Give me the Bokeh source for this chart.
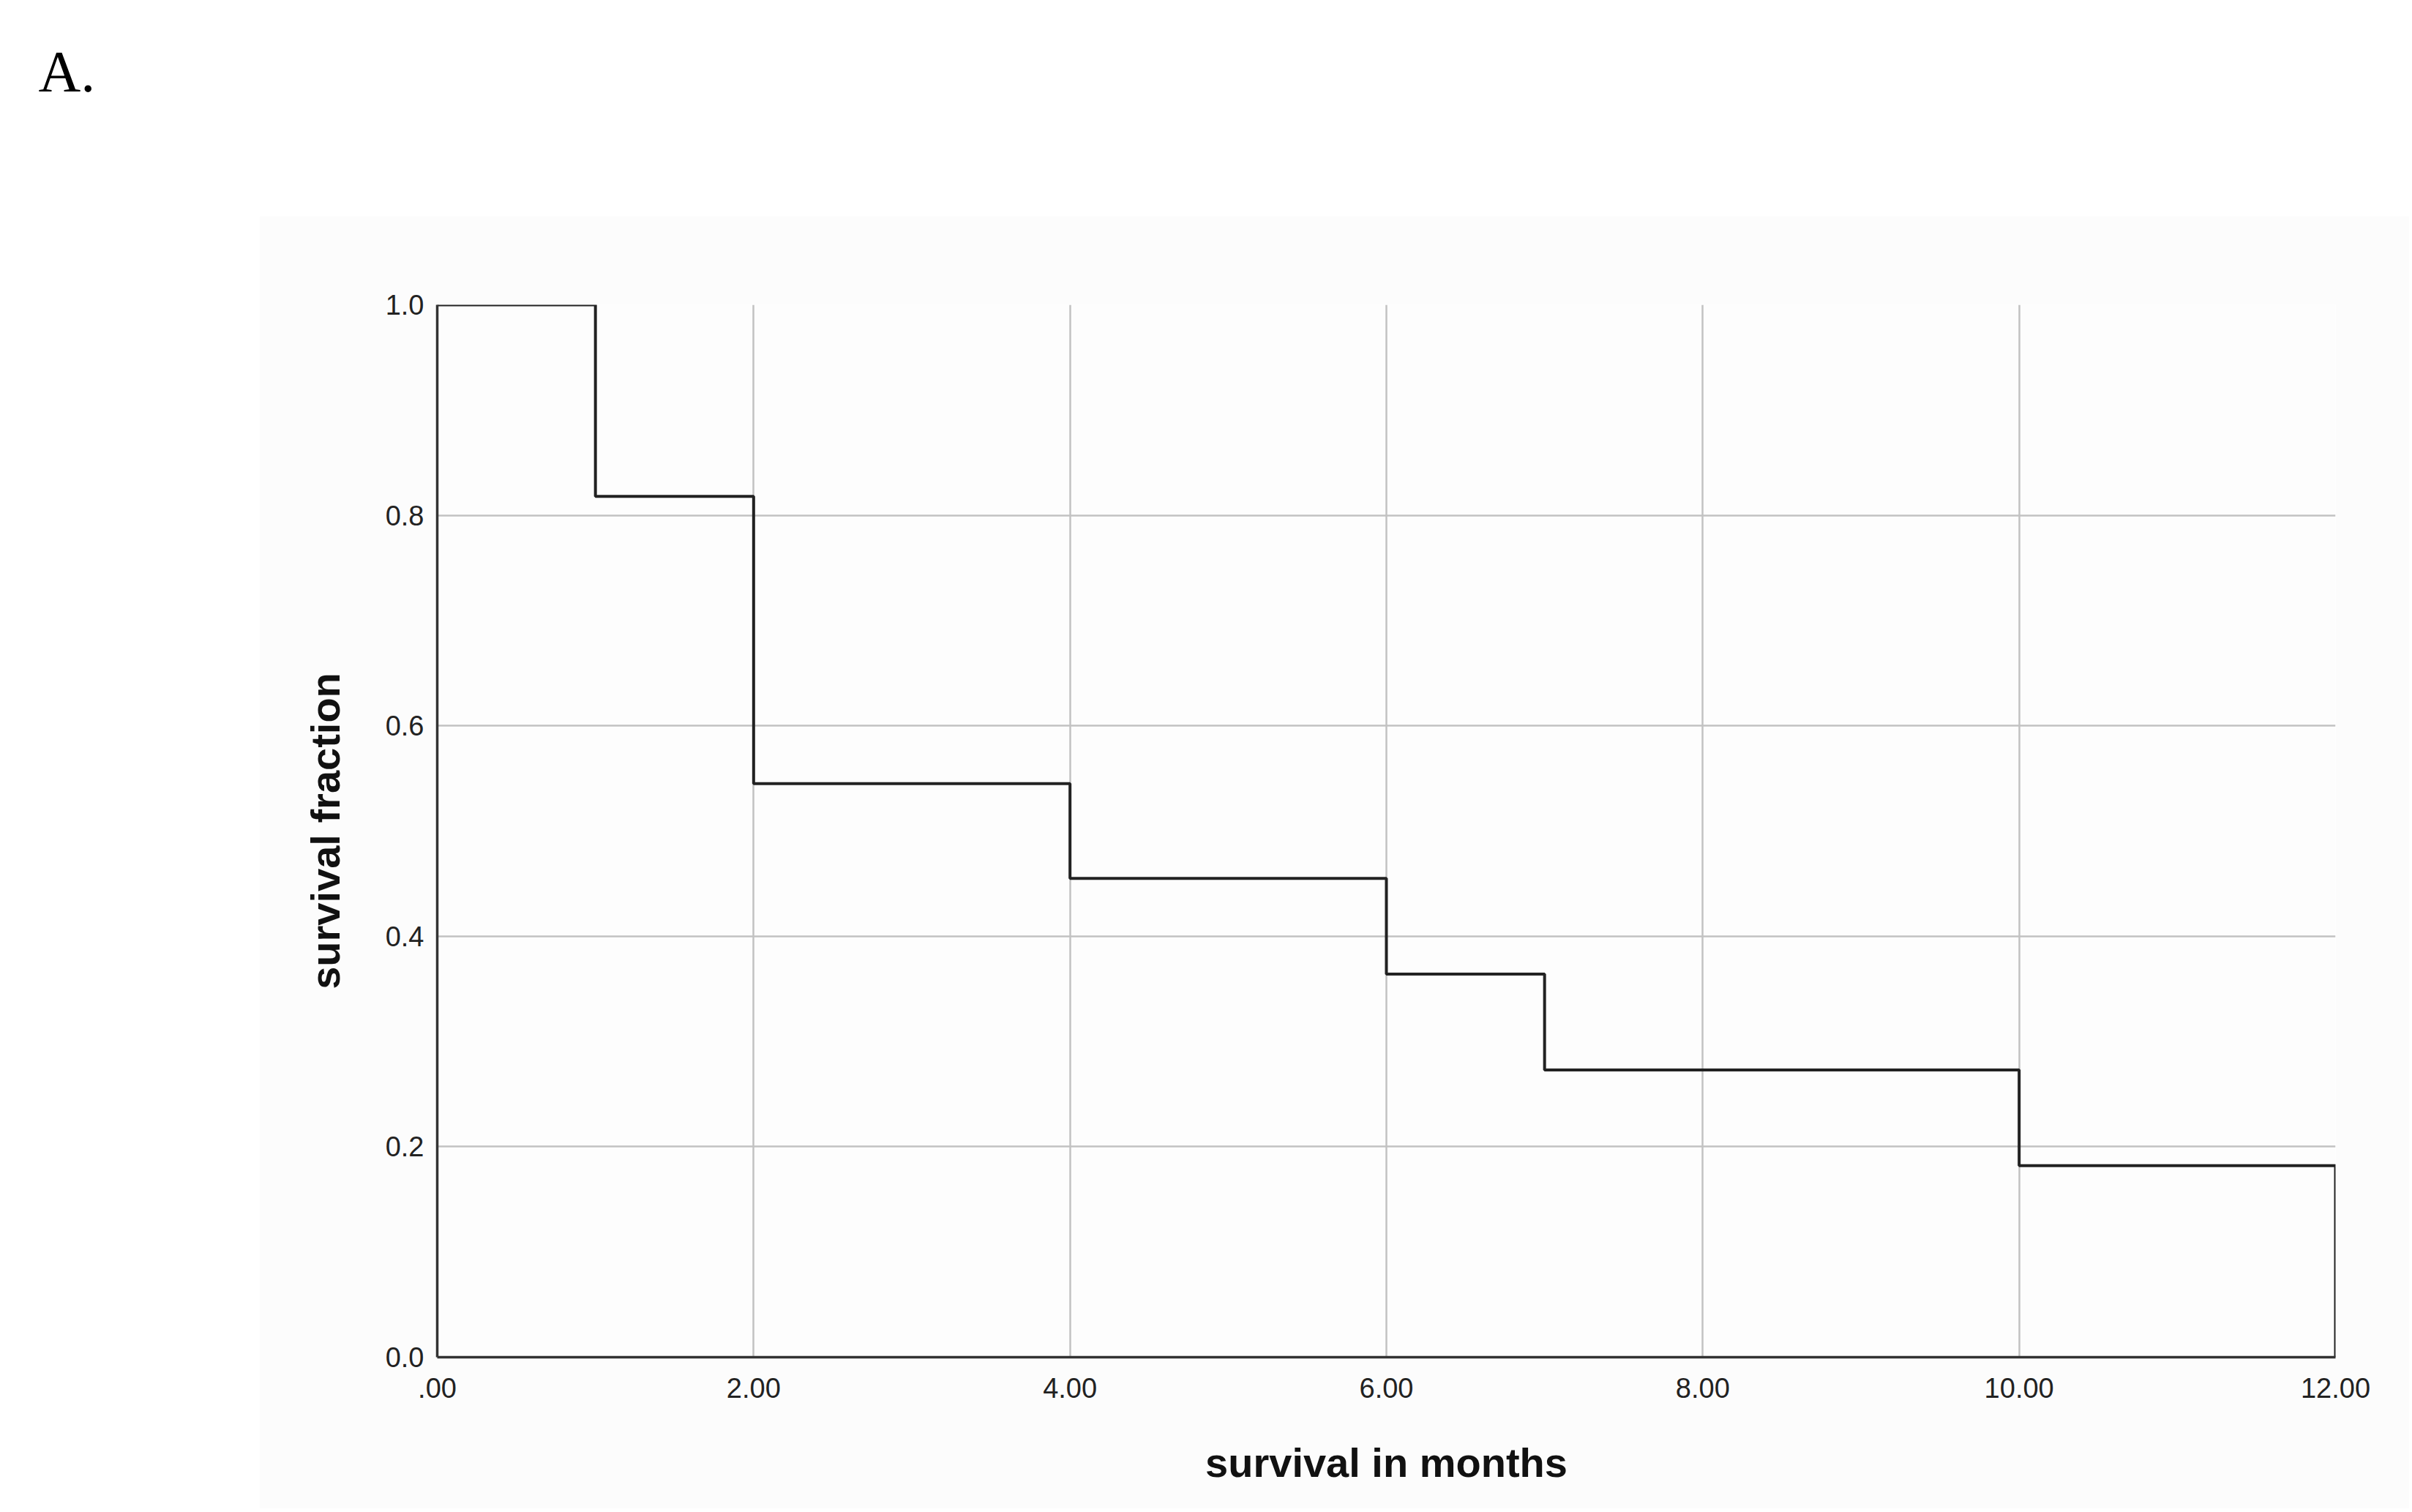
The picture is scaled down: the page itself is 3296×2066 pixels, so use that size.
from bokeh.plotting import figure
from bokeh.layouts import column
from bokeh.models import Range1d, FixedTicker, Title
from bokeh.embed import file_html
from bokeh.resources import INLINE

# Kaplan-Meier estimate
months = [0, 1, 2, 4, 6, 7, 10, 12]
survival = [1.0, 0.818, 0.545, 0.455, 0.364, 0.273, 0.182, 0.0]

x_ticks = [0, 2, 4, 6, 8, 10, 12]
x_tick_labels = [".00", "2.00", "4.00", "6.00", "8.00", "10.00", "12.00"]
y_ticks = [0.0, 0.2, 0.4, 0.6, 0.8, 1.0]
y_tick_labels = ["0.0", "0.2", "0.4", "0.6", "0.8", "1.0"]

panel_letter = "A."

FONT = "Liberation Sans"
PANEL_BG = "#fcfcfc"

# header strip carrying the panel letter as its title
# (the column aligns this strip's frame with the chart's frame, 243px in)
head = figure(width=354, height=295, output_backend="svg", toolbar_location=None,
              x_axis_type=None, y_axis_type=None,
              min_border_left=0, min_border_right=0, min_border_top=146, min_border_bottom=0,
              x_range=Range1d(0, 1), y_range=Range1d(0, 1))
head.outline_line_color = None
head.background_fill_color = "white"
head.border_fill_color = "white"
head.title = Title(text=panel_letter, align="left", offset=-191, standoff=10,
                   text_font="Liberation Serif", text_font_size="80px",
                   text_font_style="normal", text_color="black")

p = figure(width=2938, height=1766, output_backend="svg", toolbar_location=None,
           x_range=Range1d(0, 12), y_range=Range1d(0, 1),
           min_border_left=243, min_border_right=101,
           min_border_top=121, min_border_bottom=207)
p.margin = (0, 0, 0, 354)
p.border_fill_color = PANEL_BG
p.background_fill_color = "#fdfdfd"
p.outline_line_color = None

p.step(months, survival, mode="after", line_color="#222222", line_width=4)

# grids
p.xgrid.ticker = FixedTicker(ticks=x_ticks)
p.ygrid.ticker = FixedTicker(ticks=y_ticks)
for g in (p.xgrid, p.ygrid):
    g.grid_line_color = "#c2c2c2"
    g.grid_line_width = 2.5

# axes
p.xaxis.ticker = FixedTicker(ticks=x_ticks)
p.yaxis.ticker = FixedTicker(ticks=y_ticks)
p.xaxis.major_label_overrides = {t: l for t, l in zip(x_ticks, x_tick_labels)}
p.yaxis.major_label_overrides = {t: l for t, l in zip(y_ticks, y_tick_labels)}
for ax in (p.xaxis, p.yaxis):
    ax.axis_line_color = "#333333"
    ax.axis_line_width = 3.5
    ax.major_tick_line_color = None
    ax.minor_tick_line_color = None
    ax.major_tick_out = 0
    ax.major_tick_in = 0
    ax.major_label_text_font = FONT
    ax.major_label_text_font_size = "38px"
    ax.major_label_text_color = "#222222"
    ax.axis_label_text_font = FONT
    ax.axis_label_text_font_size = "56px"
    ax.axis_label_text_font_style = "bold"
    ax.axis_label_text_color = "#111111"

p.xaxis.axis_label = "survival in months"
p.yaxis.axis_label = "survival fraction"
p.xaxis.major_label_standoff = 28
p.yaxis.major_label_standoff = 18
p.xaxis.axis_label_standoff = 54
p.yaxis.axis_label_standoff = 48

layout = column(head, p, spacing=0)
open("out.html", "w").write(file_html(layout, INLINE))
